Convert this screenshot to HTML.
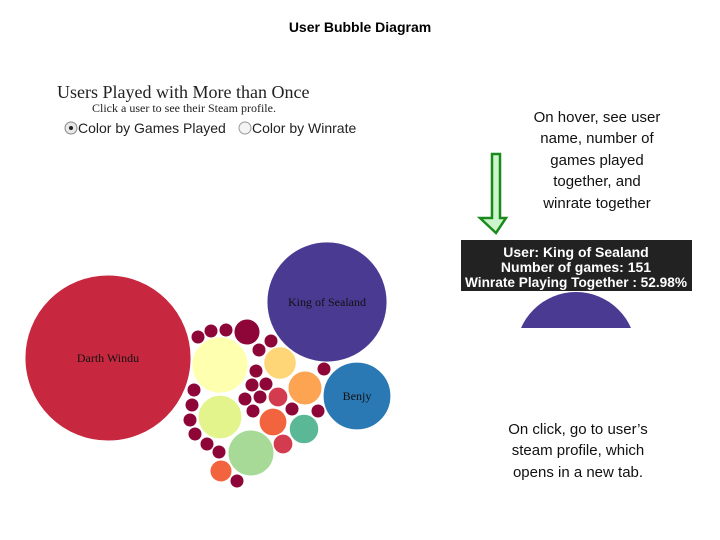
<!DOCTYPE html>
<html><head><meta charset="utf-8">
<style>
body{margin:0;background:#fff;}
#wrap{position:relative;width:720px;height:540px;overflow:hidden;background:#fff;}
svg{position:absolute;left:0;top:0;}
</style></head>
<body>
<div id="wrap">
<svg id="chart" width="720" height="540">
  <text x="360" y="32" text-anchor="middle" font-family="Liberation Sans, sans-serif" font-weight="bold" font-size="14" fill="#000">User Bubble Diagram</text>
  <text x="57" y="98" font-family="Liberation Serif, serif" font-size="18" fill="#222">Users Played with More than Once</text>
  <text x="92" y="112" font-family="Liberation Serif, serif" font-size="12" fill="#222">Click a user to see their Steam profile.</text>
  <g>
    <circle cx="71" cy="128" r="6" fill="#e8e8e8" stroke="#888" stroke-width="1"/>
    <circle cx="71" cy="128" r="2" fill="#222"/>
    <text x="78" y="133" font-family="Liberation Sans, sans-serif" font-size="14" fill="#222">Color by Games Played</text>
  </g>
  <g>
    <circle cx="245" cy="128" r="6" fill="#f4f4f4" stroke="#999" stroke-width="1"/>
    <text x="252" y="133" font-family="Liberation Sans, sans-serif" font-size="14" fill="#222">Color by Winrate</text>
  </g>
  <g id="bubbles"></g>

  <g font-family="Liberation Sans, sans-serif" font-size="15" fill="#111" text-anchor="middle">
    <text x="597" y="122">On hover, see user</text>
    <text x="597" y="143">name, number of</text>
    <text x="597" y="165">games played</text>
    <text x="597" y="186">together, and</text>
    <text x="597" y="208">winrate together</text>
  </g>
  <path d="M492,154 L500,154 L500,218 L506,218 L496,233 L480,218 L492,218 Z" fill="#ccf5cc" stroke="#1a8a1a" stroke-width="2.5" stroke-linejoin="miter"/>
  <defs><clipPath id="clipHalf"><rect x="500" y="280" width="160" height="48"/></clipPath></defs>
  <circle cx="576" cy="352" r="60" fill="#4a3a92" clip-path="url(#clipHalf)"/>
  <g>
    <rect x="461" y="240" width="231" height="51" fill="#222"/>
    <g font-family="Liberation Sans, sans-serif" font-weight="bold" font-size="14" fill="#fff" text-anchor="middle">
      <text x="576" y="257">User: King of Sealand</text>
      <text x="576" y="272">Number of games: 151</text>
      <text x="576" y="287" textLength="222" lengthAdjust="spacingAndGlyphs">Winrate Playing Together : 52.98%</text>
    </g>
  </g>
  <g font-family="Liberation Sans, sans-serif" font-size="15" fill="#111" text-anchor="middle">
    <text x="578" y="434">On click, go to user’s</text>
    <text x="578" y="455">steam profile, which</text>
    <text x="578" y="477">opens in a new tab.</text>
  </g>
</svg>
</div>
<script>
// data
const names = ["Darth Windu","King of Sealand","Benjy","u4","u5","u6","u7","u8","u9","u10","u11","u12","u13","u14",
 "s1","s2","s3","s4","s5","s6","s7","s8","s9","s10","s11","s12","s13","s14","s15","s16","s17","s18","s19","s20","s21"];
const games = [289,151,48,33,20,22,11,12,8,9,5,4,4,7,
 2,2,2,2,2,2,2,2,2,2,2,2,2,2,2,2,2,2,2,2,2];
const colors = ["#c8283f","#4a3a92","#2a78b4","#ffffb0","#e4f48c","#a6da96","#fed678","#fda453","#f2643e","#5ab896","#f2643e","#d33b4e","#d33b4e","#8e0638",
 "#8e0638","#8e0638","#8e0638","#8e0638","#8e0638","#8e0638","#8e0638","#8e0638","#8e0638","#8e0638","#8e0638","#8e0638","#8e0638","#8e0638","#8e0638","#8e0638","#8e0638","#8e0638","#8e0638","#8e0638","#8e0638"];
// pack layout (positions)
const layoutX = [108,327,357,220,220,251,280,305,273,304,221,278,283,247,
 198,211,226,271,259,324,256,252,266,245,260,253,292,318,194,192,190,195,207,219,237];
const layoutY = [358,302,396,365,417,453,363,388,422,429,471,397,444,332,
 337,331,330,341,350,369,371,385,384,399,397,411,409,411,390,405,420,434,444,452,481];
const rScale = g => 4.88 * Math.sqrt(g);
const NS = "http://www.w3.org/2000/svg";
const g = document.getElementById("bubbles");
names.forEach((n,i)=>{
  const c = document.createElementNS(NS,"circle");
  c.setAttribute("cx",layoutX[i]);
  c.setAttribute("cy",layoutY[i]);
  c.setAttribute("r",rScale(games[i]));
  c.setAttribute("fill",colors[i]);
  c.setAttribute("stroke","#fff");
  c.setAttribute("stroke-width","0.8");
  
  
  g.appendChild(c);
  if (i < 3) {
    const t = document.createElementNS(NS,"text");
    t.setAttribute("x",layoutX[i]);
    t.setAttribute("y",layoutY[i]+4);
    t.setAttribute("text-anchor","middle");
    t.setAttribute("font-family","Liberation Serif, serif");
    t.setAttribute("font-size","12");
    t.setAttribute("fill","#111");
    t.textContent = n;
    
    
    g.appendChild(t);
  }
});
</script>
</body></html>
